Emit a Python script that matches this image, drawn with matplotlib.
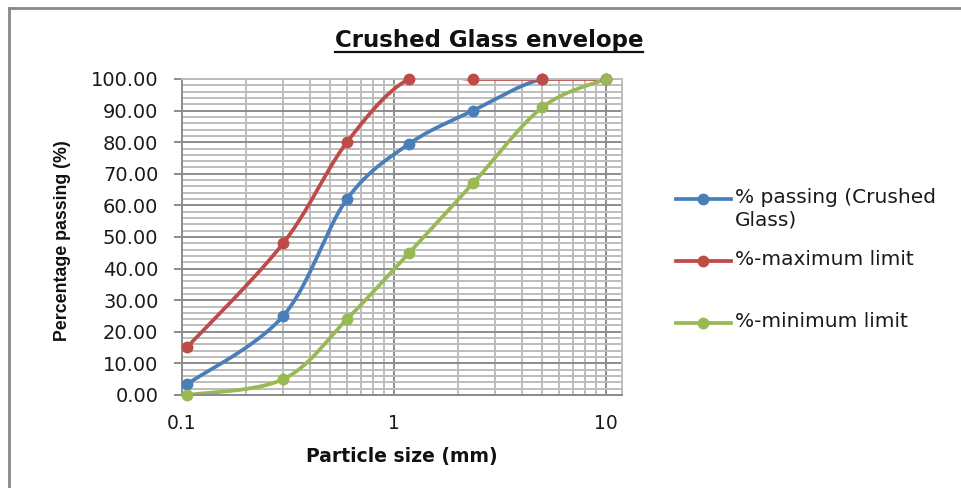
import matplotlib

matplotlib.use("Agg")
import matplotlib.pyplot as plt
import numpy as np
from matplotlib.lines import Line2D
from matplotlib.ticker import FixedLocator, NullFormatter, LogLocator

# Sieve sizes (mm) and percent passing
size_mm = [0.106, 0.3, 0.6, 1.18, 2.36, 5.0, 10.0]
passing_glass = [3.5, 25.0, 62.0, 79.5, 90.0, 100.0, 100.0]
max_limit = [15.2, 48.0, 80.0, 100.0, 100.0, 100.0, 100.0]
min_limit = [0.0, 5.0, 24.0, 45.0, 67.0, 91.0, 100.0]

series = [
    ("% passing (Crushed\nGlass)", passing_glass, "#4A7EBB"),
    ("%-maximum limit", max_limit, "#BE4B48"),
    ("%-minimum limit", min_limit, "#98B954"),
]

W, H = 962, 488
fig = plt.figure(figsize=(W / 100, H / 100), dpi=100)


def fpos(x, y):
    # pixel position (from top-left) -> figure fraction
    return x / W, 1 - y / H


ax = fig.add_axes([182 / W, 1 - 395 / H, 440 / W, 316 / H])
ax.set_xscale("log")
ax.set_xlim(0.1, 11.9)
ax.set_ylim(0, 100)

# grid
ax.set_yticks(np.arange(0, 101, 10))
ax.yaxis.set_minor_locator(FixedLocator(np.arange(0, 101, 2)))
ax.xaxis.set_major_locator(FixedLocator([0.1, 1, 10]))
ax.xaxis.set_minor_locator(LogLocator(base=10, subs=np.arange(2, 10)))
ax.xaxis.set_minor_formatter(NullFormatter())
ax.grid(which="minor", color="#BDBDBD", lw=1.4)
ax.grid(which="major", color="#8C8C8C", lw=1.4)
ax.set_axisbelow(True)

ax.set_yticklabels([f"{v:.2f}" for v in np.arange(0, 101, 10)])
ax.set_xticklabels(["0.1", "1", "10"])
ax.tick_params(axis="y", which="major", length=6, width=1.4, color="#8C8C8C",
               labelsize=14, pad=11, labelcolor="#1a1a1a")
ax.tick_params(axis="x", which="major", length=0, labelsize=13.5, pad=14,
               labelcolor="#1a1a1a")
ax.tick_params(which="minor", length=0)
for side in ["left", "bottom"]:
    ax.spines[side].set_color("#8C8C8C")
    ax.spines[side].set_linewidth(1.4)
for side in ["top", "right"]:
    ax.spines[side].set_color("#BDBDBD")
    ax.spines[side].set_linewidth(1.4)


def smooth(xs, ys, n=40):
    # Bezier smoothing in screen space, like a spreadsheet "smoothed line"
    pts = ax.transData.transform(np.column_stack([xs, ys]))
    out = []
    for i in range(len(pts) - 1):
        p0 = pts[i - 1] if i > 0 else pts[i]
        p1, p2 = pts[i], pts[i + 1]
        p3 = pts[i + 2] if i + 2 < len(pts) else pts[i + 1]
        c1 = p1 + (p2 - p0) / 6
        c2 = p2 - (p3 - p1) / 6
        t = np.linspace(0, 1, n)[:, None]
        seg = (1 - t) ** 3 * p1 + 3 * (1 - t) ** 2 * t * c1 \
            + 3 * (1 - t) * t ** 2 * c2 + t ** 3 * p2
        out.append(seg)
    data = ax.transData.inverted().transform(np.vstack(out))
    return data[:, 0], data[:, 1]


for label, vals, color in series:
    sx, sy = smooth(size_mm, vals)
    ax.plot(sx, sy, color=color, lw=2.7, solid_capstyle="round")
    ax.plot(size_mm, vals, "o", color=color, ms=7.5, clip_on=False, zorder=5)

ax.set_xlabel("Particle size (mm)", fontsize=13.5, fontweight="bold",
              labelpad=10, color="#111111")
ax.set_ylabel("Percentage passing (%)", fontsize=12.8, fontweight="bold",
              color="#111111", family=["Liberation Sans", "DejaVu Sans"])
ax.yaxis.set_label_coords(-0.252, 0.487)

# title with underline
title = fig.text(*fpos(489, 47), "Crushed Glass envelope", ha="center",
                 va="baseline", fontsize=16.5, fontweight="bold", color="#111111")
fig.canvas.draw()
bb = title.get_window_extent().transformed(fig.transFigure.inverted())
uy = fpos(0, 51.5)[1]
fig.add_artist(Line2D([bb.x0, bb.x1], [uy, uy], color="#111111", lw=1.6,
                      transform=fig.transFigure))

# legend
legend_rows = [199, 261, 323]
for (label, vals, color), ly in zip(series, legend_rows):
    x0, y0 = fpos(676, ly)
    x1, _ = fpos(731, ly)
    xm, _ = fpos(703, ly)
    fig.add_artist(Line2D([x0, x1], [y0, y0], color=color, lw=2.7,
                          transform=fig.transFigure))
    fig.add_artist(Line2D([xm], [y0], marker="o", color=color, ms=7.5,
                          transform=fig.transFigure))
    tx, ty = fpos(735, ly - 11)
    fig.text(tx, ty, label, ha="left", va="top", fontsize=14.5,
             color="#1a1a1a", linespacing=1.2)

# outer frame (left and top edges)
fig.add_artist(Line2D([fpos(9, 0)[0]] * 2, [0, fpos(0, 7.5)[1]],
                      color="#888888", lw=2, transform=fig.transFigure))
fig.add_artist(Line2D([fpos(9, 0)[0], 1], [fpos(0, 7.5)[1]] * 2,
                      color="#888888", lw=2, transform=fig.transFigure))

fig.savefig("out.png", dpi=100)
plt.close(fig)
